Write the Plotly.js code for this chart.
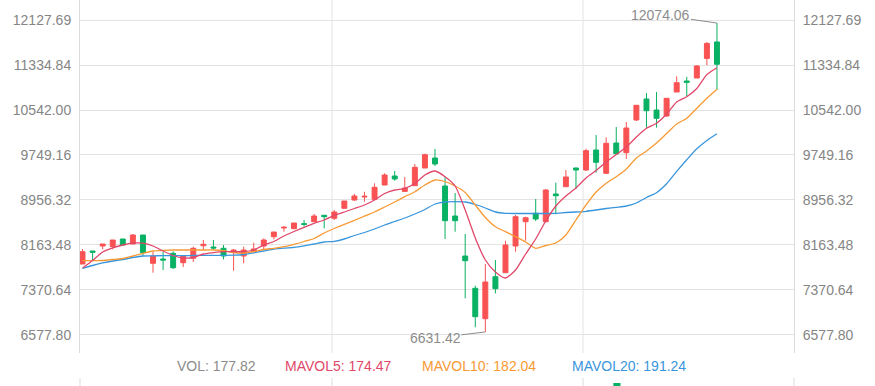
<!DOCTYPE html>
<html>
<head>
<meta charset="utf-8">
<script src="https://cdn.plot.ly/plotly-3.0.1.min.js"></script>
<style>html,body{margin:0;padding:0;background:#fff;}#chart{width:875px;height:386px;}</style>
</head>
<body>
<div id="chart"></div>
<script>
// OHLC values (64 sessions)
const openVals = [7828.6,8057.7,8145.8,8133.4,8269.1,8181.0,8339.6,7841.0,7916.7,8017.2,7851.5,7929.1,8151.1,8128.2,8105.3,8048.9,7969.6,8045.3,8145.8,8309.6,8462.9,8450.6,8538.7,8573.9,8686.7,8633.8,8810.0,8956.3,9009.1,8968.6,9220.5,9379.1,9107.8,9208.2,9520.0,9696.2,9202.9,8674.3,7969.6,7400.5,6864.9,7604.9,7675.3,8145.8,8573.9,8722.2,8573.9,9062.0,9190.6,9520.0,9484.8,9837.2,9426.7,9960.5,9789.6,10365.8,10735.8,10542.0,10436.2,10859.1,11052.9,11105.8,11451.3,11741.1];
const closeVals = [8045.3,8034.8,8181.0,8251.5,8163.4,8339.6,8027.7,7969.6,7899.1,7763.4,7969.6,8105.3,8175.7,8110.5,7969.6,8075.3,8075.3,8092.9,8251.5,8392.4,8475.3,8551.0,8528.1,8674.3,8662.0,8744.8,8938.6,9026.7,9021.5,9180.0,9396.7,9326.2,9167.7,9532.4,9754.3,9590.5,8591.5,8591.5,7886.8,6900.1,7511.5,7393.4,8163.4,8662.0,8643.9,8621.5,9132.4,9032.0,9361.5,9484.8,9824.9,9620.5,9955.2,9772.0,10224.8,10624.8,10529.6,10395.7,10748.1,11023.0,11030.0,11317.2,11715.6,11348.2];
const highVals = [8092.9,8057.7,8181.0,8251.5,8269.1,8357.2,8339.6,8045.3,8045.3,8052.4,7969.6,8133.4,8251.5,8251.5,8163.4,8092.9,8133.4,8203.9,8281.4,8392.4,8498.2,8551.0,8603.9,8709.6,8692.2,8780.1,8938.6,9062.0,9101.5,9250.5,9426.7,9467.3,9361.5,9590.5,9772.0,9854.8,9361.5,9079.6,8357.2,7446.3,7828.6,7899.1,8239.2,8692.2,8662.0,8973.9,9150.0,9261.1,9484.8,9525.3,9860.1,10101.5,10061.0,10242.2,10330.5,10624.8,10841.5,10859.1,10753.4,11135.7,11125.2,11334.8,11739.1,12074.06];
const lowVals = [7828.6,7886.8,8087.6,8087.6,8145.8,8181.0,7974.9,7675.3,7722.9,7740.5,7775.8,7863.9,8075.3,8075.3,7911.4,7710.6,7841.0,8045.3,8092.9,8263.8,8397.7,8450.6,8485.8,8573.9,8457.6,8603.9,8810.0,8938.6,8926.3,8956.3,9220.5,9296.3,9107.8,9208.2,9520.0,9555.3,8269.1,8397.7,7224.3,6713.4,6631.42,7310.6,7675.3,8045.3,8239.2,8586.2,8562.3,8705.3,9190.6,9150.1,9467.2,9437.2,9414.3,9761.4,9678.6,10348.2,10230.1,10230.1,10418.6,10859.1,10788.6,11105.8,11329.5,10894.3];

// Moving average lines
const ma5 = [7758.2,7890.3,8040.1,8114.1,8163.4,8198.6,8195.1,8145.8,8057.7,7978.4,7934.3,7943.2,8004.8,8027.7,8045.3,8045.3,8045.3,8075.3,8163.4,8225.1,8322.0,8401.3,8475.3,8545.8,8603.9,8686.7,8744.8,8806.5,8868.2,8956.3,9070.8,9132.4,9162.4,9247.0,9396.7,9467.2,9366.8,9202.9,8780.1,8286.7,7899.1,7687.7,7582.0,7722.9,8004.8,8269.1,8586.2,8850.5,9026.7,9167.7,9343.9,9476.0,9625.8,9757.9,9890.1,10066.3,10219.6,10307.7,10471.5,10683.0,10776.3,10920.8,11167.5,11287.3];
const ma10 = [7886.8,7886.8,7890.3,7907.9,7925.5,7969.6,8017.2,8057.7,8070.0,8075.3,8075.3,8075.3,8075.3,8075.3,8063.0,8031.3,8022.4,8045.3,8084.1,8105.3,8133.4,8175.7,8225.1,8277.9,8374.8,8454.1,8528.1,8598.6,8670.8,8744.8,8832.9,8921.0,9014.4,9102.5,9220.5,9308.6,9282.2,9202.9,9088.4,8868.2,8648.0,8485.9,8397.7,8309.6,8216.3,8105.3,8154.6,8198.6,8339.6,8603.9,8868.2,9097.2,9250.5,9366.8,9502.5,9696.2,9819.6,9960.5,10127.9,10295.3,10395.7,10571.9,10748.1,10906.7];
const ma20 = [7752.9,7802.2,7846.3,7881.5,7907.9,7943.2,7969.6,7973.1,7974.9,7974.9,7974.9,7978.4,7981.9,7981.9,7981.9,7983.7,7996.0,8026.0,8057.7,8092.9,8107.0,8122.9,8149.3,8181.0,8216.3,8228.6,8269.1,8330.8,8383.6,8445.3,8515.8,8577.4,8639.1,8709.6,8788.9,8885.8,8921.0,8926.3,8921.0,8877.0,8815.3,8744.8,8721.9,8718.4,8718.4,8718.4,8718.4,8721.9,8736.0,8744.8,8757.1,8780.1,8806.5,8827.6,8850.5,8903.4,9000.3,9084.9,9242.8,9459.5,9665.6,9859.4,10005.6,10123.7];

// Axis ticks
const tickValues = [6577.80,7370.64,8163.48,8956.32,9749.16,10542.00,11334.84,12127.69];
const tickLabels = ["6577.80","7370.64","8163.48","8956.32","9749.16","10542.00","11334.84","12127.69"];

// Legend readouts
const legendItems = [
  {text:"VOL: 177.82", color:"#8c8c8c"},
  {text:"MAVOL5: 174.47", color:"#e0486a"},
  {text:"MAVOL10: 182.04", color:"#f79a35"},
  {text:"MAVOL20: 191.24", color:"#3a96dc"}
];
const maxLabel = "12074.06";
const minLabel = "6631.42";

const xs = openVals.map((_, i) => i);
const UP = "#f95252", DOWN = "#08b163";
const C5 = "#e0486a", C10 = "#f79a35", C20 = "#3a96dc";

const traces = [
  {type:"scatter", mode:"lines", x:xs, y:ma20, line:{color:C20, width:1.3, shape:"spline", smoothing:0.6}, hoverinfo:"skip"},
  {type:"scatter", mode:"lines", x:xs, y:ma10, line:{color:C10, width:1.3, shape:"spline", smoothing:0.6}, hoverinfo:"skip"},
  {type:"scatter", mode:"lines", x:xs, y:ma5, line:{color:C5, width:1.3, shape:"spline", smoothing:0.6}, hoverinfo:"skip"},
  {type:"candlestick", x:xs, open:openVals, high:highVals, low:lowVals, close:closeVals,
   increasing:{line:{color:UP, width:1}, fillcolor:UP},
   decreasing:{line:{color:DOWN, width:1}, fillcolor:DOWN},
   whiskerwidth:0, hoverinfo:"skip"},
  {type:"scatter", mode:"lines", x:[xs[0], xs[0]], y:[tickValues[0], tickValues[0]], yaxis:"y2", line:{width:0}, hoverinfo:"skip"}
];

const yRange = [6260.5, 12480.0];
const font = {family:"Arial, 'Liberation Sans', sans-serif", size:14, color:"#858585"};

const iMax = highVals.indexOf(Math.max(...highVals));
const iMin = lowVals.indexOf(Math.min(...lowVals));

const legendX = [0.133, 0.2843, 0.4762, 0.6863];
const annotations = legendItems.map((it, k) => ({
  xref:"paper", yref:"paper", x:legendX[k], y:-0.037, xanchor:"left", yanchor:"middle",
  text:it.text, showarrow:false, font:{family:font.family, size:14, color:it.color}
}));
annotations.push({x:xs[iMax], y:highVals[iMax], xref:"x", yref:"y", text:maxLabel, showarrow:true,
  arrowhead:0, arrowwidth:1, arrowcolor:"#8c8c8c", ax:-56, ay:-8, font:{family:font.family, size:14, color:"#8c8c8c"}, borderpad:0});
annotations.push({x:xs[iMin], y:lowVals[iMin], xref:"x", yref:"y", text:minLabel, showarrow:true,
  arrowhead:0, arrowwidth:1, arrowcolor:"#8c8c8c", ax:-50, ay:6, font:{family:font.family, size:14, color:"#8c8c8c"}, borderpad:0});

const gridCol = "#e3e3e3", axisCol = "#dcdcdc";
const shapes = [];
[0.353, 0.7045].forEach(px => shapes.push({type:"line", xref:"paper", yref:"paper", x0:px, x1:px, y0:0, y1:1, line:{color:gridCol, width:1}, layer:"below"}));
[0, 0.353, 0.7045, 1].forEach(px => shapes.push({type:"line", xref:"paper", yref:"paper", x0:px, x1:px, y0:-0.071, y1:-0.1, line:{color:axisCol, width:1}}));
shapes.push({type:"rect", xref:"paper", yref:"paper", x0:0.747, x1:0.757, y0:-0.085, y1:-0.1, fillcolor:DOWN, line:{width:0}});

const layout = {
  width:875, height:386,
  margin:{l:80, r:81, t:0, b:33},
  paper_bgcolor:"#fff", plot_bgcolor:"#fff",
  showlegend:false, hovermode:false,
  font:font,
  xaxis:{range:[-0.25, 70.65], showgrid:false, zeroline:false, showticklabels:false, ticks:"", rangeslider:{visible:false}, fixedrange:true},
  yaxis:{range:yRange, tickvals:tickValues, ticktext:tickLabels, showgrid:true, gridcolor:gridCol, gridwidth:1,
         zeroline:false, showline:true, linecolor:axisCol, linewidth:1, ticks:"", ticklabelstandoff:5, tickfont:font, fixedrange:true},
  yaxis2:{range:yRange, tickvals:tickValues, ticktext:tickLabels, overlaying:"y", side:"right", showgrid:false,
          zeroline:false, showline:true, linecolor:axisCol, linewidth:1, ticks:"", ticklabelstandoff:5, tickfont:font, fixedrange:true},
  annotations:annotations,
  shapes:shapes
};

Plotly.newPlot("chart", traces, layout, {staticPlot:true, displayModeBar:false});
</script>
</body>
</html>
